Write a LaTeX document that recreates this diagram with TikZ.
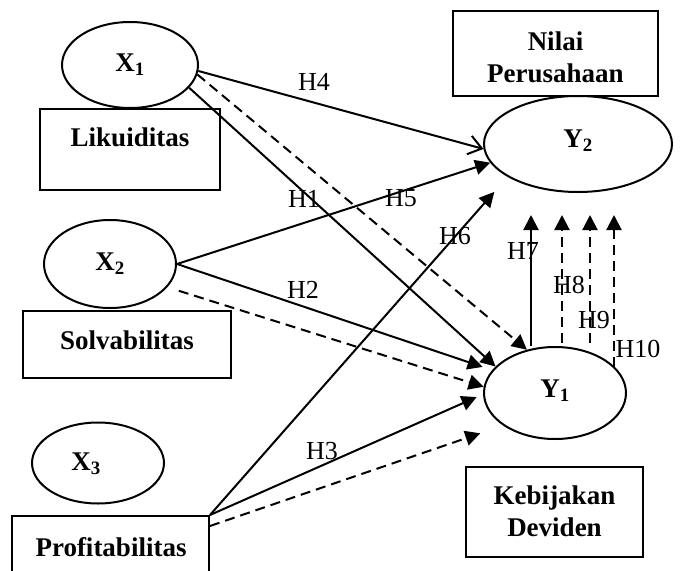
\documentclass[tikz,border=0pt]{standalone}
\usepackage{fontspec}
\setmainfont{Liberation Serif}
\usetikzlibrary{shapes.geometric,arrows.meta}
\begin{document}
\begin{tikzpicture}[x=1pt,y=-1pt,
  lw/.style={line width=2pt},
  oval/.style={ellipse,draw,lw,inner sep=0pt},
  box/.style={rectangle,draw,lw,inner sep=0pt},
  bold/.style={font=\fontsize{27}{32}\selectfont\bfseries,align=center,inner sep=0pt},
  hl/.style={font=\fontsize{26}{30}\selectfont,inner sep=0pt},
  conn/.style={lw,-{Triangle[length=15pt,width=15pt]}},
  dconn/.style={conn,dash pattern=on 10pt off 6pt},
  oconn/.style={lw,-{Straight Barb[length=13pt,width=19pt]}},
]
\useasboundingbox (0,0) rectangle (681,571);
\clip (0,0) rectangle (681,571);

% ellipses
\node[oval,minimum width=136pt,minimum height=86pt] (x1) at (130,65) {};
\node[bold] (x1t) at (130,65) {X\textsubscript{1}};
\node[oval,minimum width=132pt,minimum height=88pt] (x2) at (110,264) {};
\node[bold] (x2t) at (110,264) {X\textsubscript{2}};
\node[oval,minimum width=132pt,minimum height=81pt] (x3) at (98,463) {};
\node[bold] (x3t) at (86,464) {X\textsubscript{3}};
\node[oval,minimum width=188pt,minimum height=96pt] (y2) at (578,144) {};
\node[bold] (y2t) at (578,141) {Y\textsubscript{2}};
\node[oval,minimum width=142pt,minimum height=92pt] (y1) at (555,393) {};
\node[bold] (y1t) at (555,391) {Y\textsubscript{1}};

% boxes
\node[box,minimum width=180pt,minimum height=81pt] (lik) at (130,149.5) {};
\node[bold] (likt) at (130,137) {Likuiditas};
\node[box,minimum width=208pt,minimum height=67pt] (solv) at (127,344.5) {};
\node[bold] (solvt) at (127,340) {Solvabilitas};
\node[box,minimum width=197pt,minimum height=70pt] (prof) at (110.5,551) {};
\node[bold] (proft) at (111,547) {Profitabilitas};
\node[box,minimum width=205pt,minimum height=85pt] (np) at (555.5,53.5) {};
\node[bold] (npt) at (555.5,57) {Nilai\\Perusahaan};
\node[box,minimum width=177pt,minimum height=90pt] (kd) at (554.5,512) {};
\node[bold] (kdt) at (554.5,511) {Kebijakan\\Deviden};

% connectors from X1
\draw[oconn] (x1.-5) -- (y2.183.6);
\draw[dconn] (x1.-8.5) -- (y1.123);
\draw[conn] (x1.-21) -- (y1.156.5);
% from X2
\draw[conn] (x2.east) -- (y2.192.6);
\draw[conn,shorten >=10pt] (x2.east) -- (y1.160.9);
\draw[dconn,shorten <=12pt] (x2.-22) -- (y1.175);
% from Profitabilitas
\draw[conn,shorten >=20pt] (prof.north east) -- (y2.205);
\draw[conn,shorten >=7pt] (prof.north east) -- (y1.181.5);
\draw[dconn,shorten >=24pt] ([yshift=-11pt]prof.north east) -- (y1.212.4);

% vertical arrows Y1 -> Y2
\coordinate (t7) at (531,215);
\coordinate (t8) at (562,215);
\coordinate (t9) at (590,215);
\coordinate (t10) at (614,215);
\coordinate (b8) at (562,343);
\coordinate (b9) at (590,343);
\coordinate (b10) at (614,367);
\draw[conn] (t7 |- y1.north) -- (t7);
\draw[dconn] (b8) -- (t8);
\draw[dconn] (b9) -- (t9);
\draw[dconn] (b10) -- (t10);

% labels
\node[hl] (h4) at (314,82) {H4};
\node[hl] (h1) at (304,199) {H1};
\node[hl] (h5) at (401,198) {H5};
\node[hl] (h6) at (455,236) {H6};
\node[hl] (h2) at (303,290) {H2};
\node[hl] (h3) at (322,451) {H3};
\node[hl] (h7) at (523,251) {H7};
\node[hl] (h8) at (569,285) {H8};
\node[hl] (h9) at (594,320) {H9};
\node[hl] (h10) at (638,349) {H10};
\end{tikzpicture}
\end{document}
